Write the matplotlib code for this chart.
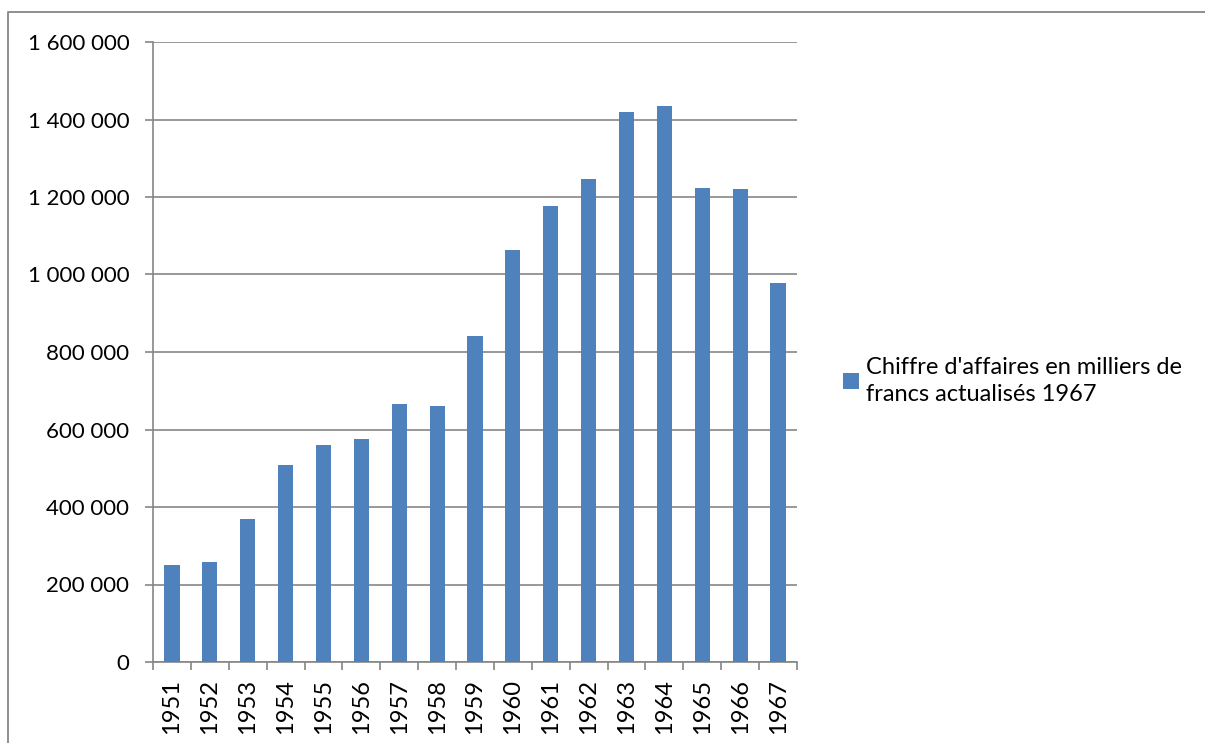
import numpy as np
import matplotlib
matplotlib.use("Agg")
import matplotlib.pyplot as plt
from matplotlib.ticker import FuncFormatter
from matplotlib.lines import Line2D

years = ["1951", "1952", "1953", "1954", "1955", "1956", "1957", "1958", "1959",
         "1960", "1961", "1962", "1963", "1964", "1965", "1966", "1967"]
chiffre = [250000, 257000, 368000, 508000, 560000, 575000, 666000, 660000, 842000,
           1063000, 1177000, 1247000, 1419000, 1434000, 1224000, 1220000, 977000]
label = "Chiffre d'affaires en milliers de\nfrancs actualisés 1967"

plt.rcParams['font.family'] = ['Lato', 'DejaVu Sans']
grey = "#868686"

fig = plt.figure(figsize=(12.05, 7.43), dpi=100)
ax = fig.add_axes([153 / 1205, 81 / 743, 644 / 1205, 620 / 743])

x = np.arange(len(years))
ax.bar(x, chiffre, width=0.4, color="#4F81BD", label=label, zorder=3)

ax.set_ylim(0, 1600000)
ax.set_xlim(-0.5, len(years) - 0.5)
ax.set_yticks(np.arange(0, 1600001, 200000))
ax.yaxis.set_major_formatter(FuncFormatter(lambda v, p: f"{v:,.0f}".replace(",", " ")))
ax.grid(axis="y", color=grey, lw=1.2, zorder=0)

ax.set_xticks(x)
ax.set_xticklabels(years, rotation=90)
ax.set_xticks(np.arange(-0.5, len(years)), minor=True)
ax.tick_params(axis="x", which="major", length=0, pad=12, labelsize=17)
ax.tick_params(axis="x", which="minor", length=6, width=1.2, color=grey)
ax.tick_params(axis="y", length=6, width=1.2, color=grey, pad=11, labelsize=16)

for s in ["top", "right"]:
    ax.spines[s].set_visible(False)
for s in ["left", "bottom"]:
    ax.spines[s].set_color(grey)
    ax.spines[s].set_linewidth(1.2)

leg = ax.legend(loc="center left", bbox_to_anchor=(822 / 1205, 362 / 743),
                bbox_transform=fig.transFigure, frameon=False, fontsize=17,
                handlelength=0.65, handleheight=0.65, handletextpad=0.3)
for t in leg.get_texts():
    t.set_linespacing(1.35)

# outer chart border
fig.add_artist(Line2D([8 / 1205, 8 / 1205, 1], [0, 1 - 12 / 743, 1 - 12 / 743],
                      transform=fig.transFigure, color=grey, lw=1.3))

fig.savefig("out.png", dpi=100)
